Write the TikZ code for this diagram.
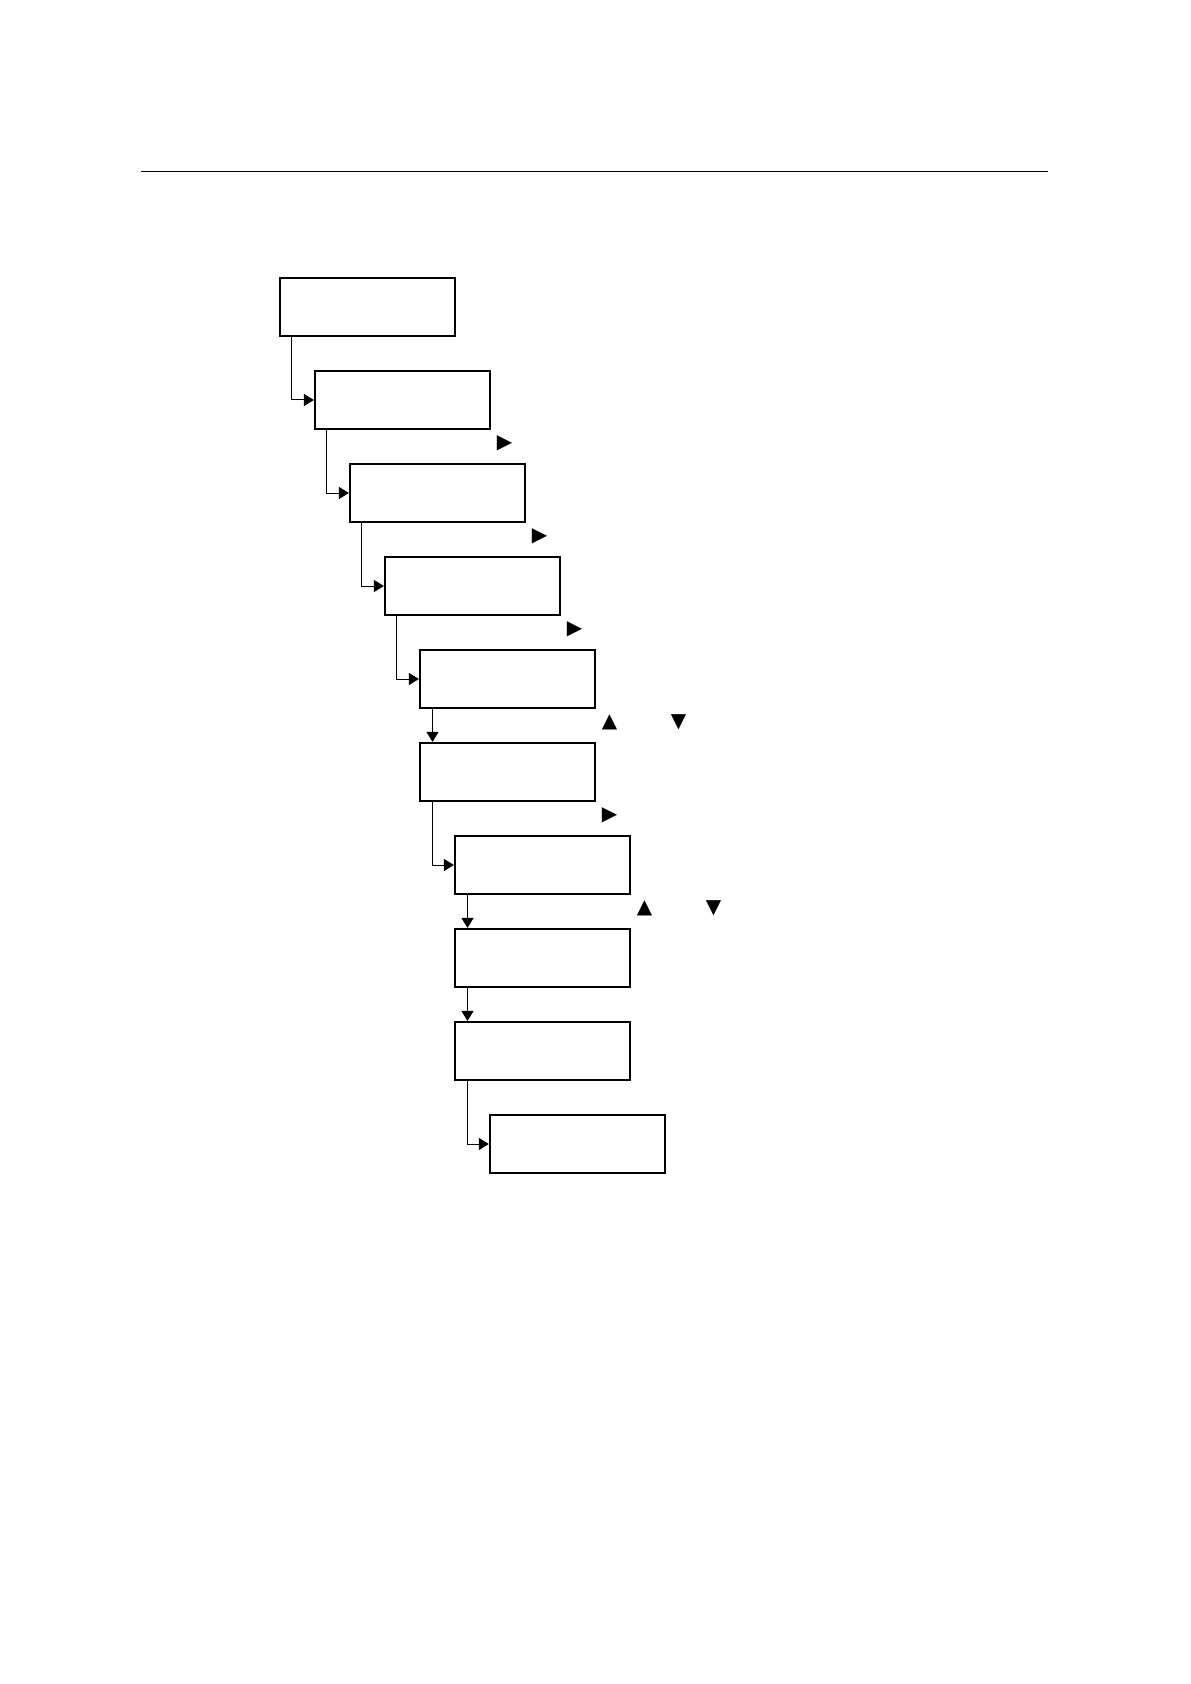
\documentclass[tikz,border=0pt]{standalone}
\usepackage{fontspec}
\newfontfamily\symfont{DejaVu Sans}
\usetikzlibrary{arrows.meta}
\begin{document}
\begin{tikzpicture}[x=0.5pt,y=-0.5pt,
  box/.style={draw, line width=1.1pt, minimum width=87.5pt, minimum height=29pt, inner sep=0pt},
  conn/.style={line width=0.5pt, -{Triangle[length=5pt,width=6pt]}},
  tri/.style={font=\symfont\fontsize{10}{10}\selectfont, inner sep=0pt}
]
\useasboundingbox (0,0) rectangle (1190,1684);
\draw[line width=0.7pt] (141,171.5) coordinate (rl) -- (1048,171.5) coordinate (rr);

\node[box] (b1) at (367.5,307) {};
\node[box] (b2) at (402.5,400) {};
\node[box] (b3) at (437.5,493) {};
\node[box] (b4) at (472.5,586) {};
\node[box] (b5) at (507.5,679) {};
\node[box] (b6) at (507.5,772) {};
\node[box] (b7) at (542.5,865) {};
\node[box] (b8) at (542.5,958) {};
\node[box] (b9) at (542.5,1051) {};
\node[box] (b10) at (577.5,1144) {};

\draw[conn] ([xshift=6.4pt]b1.south west) |- (b2.west);
\draw[conn] ([xshift=6.4pt]b2.south west) |- (b3.west);
\draw[conn] ([xshift=6.4pt]b3.south west) |- (b4.west);
\draw[conn] ([xshift=6.4pt]b4.south west) |- (b5.west);
\draw[conn] ([xshift=6.8pt]b5.south west) -- ([xshift=6.8pt]b6.north west);
\draw[conn] ([xshift=6.8pt]b6.south west) |- (b7.west);
\draw[conn] ([xshift=6.8pt]b7.south west) -- ([xshift=6.8pt]b8.north west);
\draw[conn] ([xshift=6.8pt]b8.south west) -- ([xshift=6.8pt]b9.north west);
\draw[conn] ([xshift=6.8pt]b9.south west) |- (b10.west);

\node[tri] (t2) at (504.5,443) {▶};
\node[tri] (t3) at (539.5,536) {▶};
\node[tri] (t4) at (574.5,629) {▶};
\node[tri] (u5) at (609.5,722) {▲};
\node[tri] (d5) at (678.5,722) {▼};
\node[tri] (t6) at (609.5,815) {▶};
\node[tri] (u7) at (644.5,908) {▲};
\node[tri] (d7) at (713.5,908) {▼};
\end{tikzpicture}
\end{document}
